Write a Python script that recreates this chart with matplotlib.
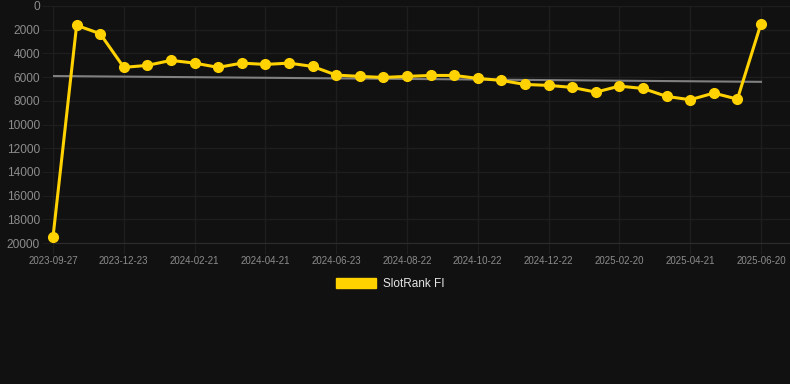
import numpy as np
import matplotlib
matplotlib.use('Agg')
import matplotlib.pyplot as plt
import matplotlib.patches as mpatches

plt.rcParams['font.family'] = ['Liberation Sans', 'DejaVu Sans']

#%% data
dates = ['2023-09-27', '2023-10-18', '2023-11-08', '2023-12-23', '2024-01-12',
         '2024-02-01', '2024-02-21', '2024-03-12', '2024-04-01', '2024-04-21',
         '2024-05-12', '2024-06-02', '2024-06-23', '2024-07-13', '2024-08-02',
         '2024-08-22', '2024-09-11', '2024-10-01', '2024-10-22', '2024-11-11',
         '2024-12-01', '2024-12-22', '2025-01-11', '2025-01-31', '2025-02-20',
         '2025-03-12', '2025-04-01', '2025-04-21', '2025-05-11', '2025-05-31',
         '2025-06-20']
rank = [19500, 1630, 2340, 5180, 5010, 4590, 4820, 5180, 4820, 4930,
        4820, 5100, 5830, 5940, 6030, 5940, 5860, 5860, 6110, 6280,
        6620, 6700, 6870, 7270, 6760, 6960, 7630, 7910, 7350, 7860,
        1490]
trend = [5910, 6400]   # start / end of trend line
yticks = list(range(0, 20001, 2000))

bgcolor = '#111111'
gridcol = '#1e1e1e'
yellow = '#FFD200'

#%% plot
W, H = 790, 384
x0, x1 = 53, 761          # pixel positions of first / last point
fig = plt.figure(figsize=(W/100, H/100), dpi=100, facecolor=bgcolor)
ax = fig.add_axes([x0/W, 1-243/H, (W-x0)/W, (243-6)/H])
ax.set_facecolor(bgcolor)

x = np.arange(len(rank))
ax.plot([x[0], x[-1]], trend, color='#808080', lw=1.5, zorder=2)
ax.plot(x, rank, color=yellow, lw=2.2, marker='o', ms=7,
        mfc=yellow, mec=yellow, zorder=3, clip_on=False)

n = len(rank) - 1
ax.set_xlim(0, n * (W - x0) / (x1 - x0))
ax.set_ylim(20000, 0)
ax.set_yticks(yticks)
ax.set_yticklabels([str(v) for v in yticks])
ax.set_xticks(x[::3])
ax.set_xticklabels(dates[::3])

ax.grid(True, color=gridcol, lw=1, zorder=0)
ax.tick_params(axis='y', length=8, color=gridcol, pad=1.5,
               labelsize=8.6, labelcolor='#8c8c8c')
ax.tick_params(axis='x', length=8, color=gridcol, pad=1,
               labelsize=7, labelcolor='#8c8c8c')
for s in ['top', 'right', 'left']:
    ax.spines[s].set_visible(False)
ax.spines['bottom'].set_color('#2c2c2c')
ax.spines['bottom'].set_linewidth(0.8)

# legend
hnd = mpatches.Patch(facecolor=yellow, edgecolor=yellow, label='SlotRank FI')
leg = fig.legend(handles=[hnd], loc='center', bbox_to_anchor=(390/W, 1-284/H),
                 frameon=False, fontsize=8.5, handlelength=3.4,
                 handleheight=0.95, handletextpad=0.55, labelcolor='#e6e6e6')

fig.savefig('out.png', dpi=100, facecolor=bgcolor)
